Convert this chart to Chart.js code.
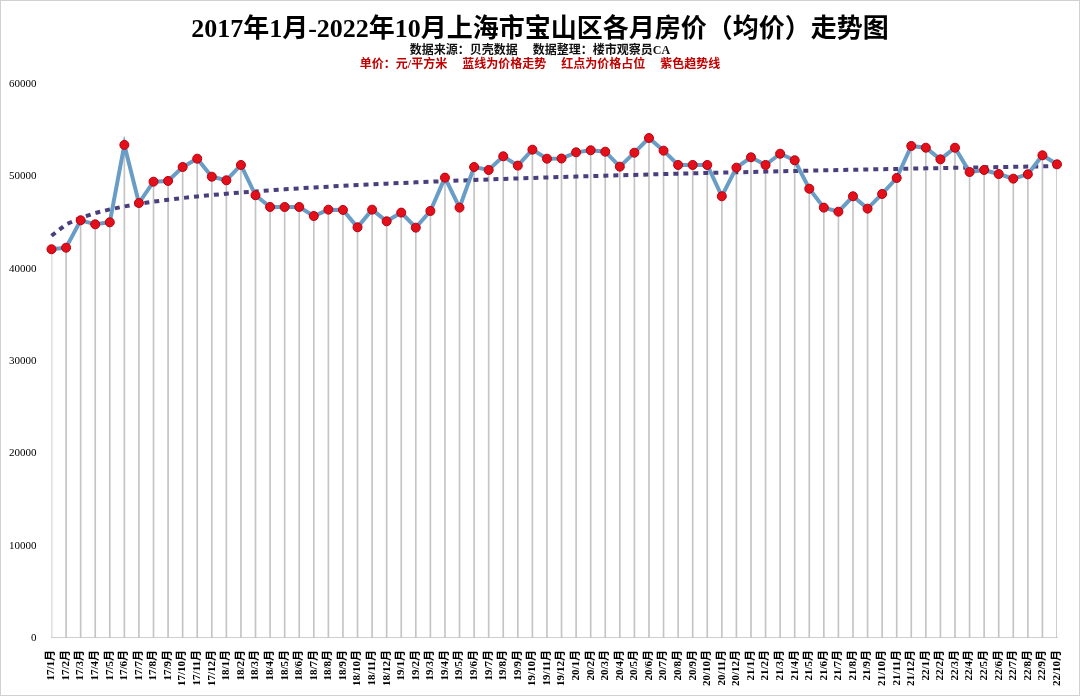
<!DOCTYPE html>
<html>
<head>
<meta charset="utf-8">
<script src="https://cdn.jsdelivr.net/npm/chart.js@4"></script>
<style>
  html, body { margin: 0; padding: 0; background: #fff; }
  #wrap { position: relative; width: 1078px; height: 694px; border: 1px solid #d0d0d0; }
  #myChart { position: absolute; left: 0; top: 0; }
  .t { position: absolute; left: 0; width: 100%; text-align: center; font-weight: bold; white-space: pre; }
  #title { top: 6px; font: bold 26px "Liberation Serif", "Noto Sans CJK SC", serif; color: #000; }
  #sub1 { top: 39px; font: bold 12px "Liberation Serif", "Noto Sans CJK SC", serif; color: #111; }
  #sub2 { top: 53px; font: bold 12px "Liberation Serif", "Noto Sans CJK SC", serif; color: #c00000; }
</style>
</head>
<body>
<div id="wrap">
  <canvas id="myChart" width="1078" height="694"></canvas>
  <div class="t" id="title">2017年1月-2022年10月上海市宝山区各月房价（均价）走势图</div>
  <div class="t" id="sub1">数据来源：贝壳数据     数据整理：楼市观察员CA</div>
  <div class="t" id="sub2">单价：元/平方米     蓝线为价格走势     红点为价格占位     紫色趋势线</div>
</div>
<script>
const ctx = document.getElementById('myChart');

var years = ["17", "18", "19", "20", "21", "22"];
var xValues = [];
years.forEach(function (y) {
    for (var m = 1; m <= 12; m++) {
        if (y == "22" && m > 10) break;
        xValues.push(y + "/" + m + "月");
    }
});

var yValues = [
    42100, 42270, 45240, 44800, 45020, 53400, 47110, 49420, 49500, 51010, 51910, 49960,
    49570, 51230, 47950, 46680, 46680, 46680, 45700, 46390, 46360, 44480, 46390, 45130,
    46070, 44440, 46250, 49860, 46610, 51010, 50690, 52170, 51160, 52890, 51910, 51930,
    52600, 52820, 52670, 51050, 52560, 54150, 52780, 51230, 51230, 51230, 47840, 50940,
    52060, 51230, 52450, 51740, 48660, 46610, 46170, 47840, 46500, 48090, 49820, 53290,
    53100, 51840, 53100, 50470, 50690, 50250, 49750, 50220, 52280, 51300
];
var yTicks = [0, 10000, 20000, 30000, 40000, 50000, 60000];

// logarithmic trendline (least squares on ln(x)), like the Excel one
var n = yValues.length, sx = 0, sy = 0, sxx = 0, sxy = 0;
for (var i = 0; i < n; i++) {
    var lx = Math.log(i + 1);
    sx += lx; sy += yValues[i]; sxx += lx * lx; sxy += lx * yValues[i];
}
var slope = (n * sxy - sx * sy) / (n * sxx - sx * sx);
var icpt = (sy - slope * sx) / n;
var trend = yValues.map(function (v, i) { return icpt + slope * Math.log(i + 1); });

const chart = new Chart(ctx, {
    data: {
        labels: xValues,
        datasets: [{
            type: 'line',
            data: yValues,
            borderColor: '#6a9dc6',
            borderWidth: 4,
            pointRadius: 4.5,
            pointBackgroundColor: '#e3101c',
            pointBorderColor: '#b8000c',
            pointBorderWidth: 1,
            tension: 0,
            order: 1
        }, {
            type: 'line',
            data: trend,
            borderColor: '#4a3f7c',
            borderWidth: 4,
            borderDash: [5, 5],
            pointRadius: 0,
            order: 2
        }, {
            type: 'bar',
            data: yValues,
            backgroundColor: '#c4c4c4',
            barThickness: 1,
            order: 3
        }]
    },
    options: {
        responsive: false,
        animation: false,
        layout: {
            padding: { top: 83, left: 1, right: 22, bottom: 5 }
        },
        scales: {
            x: {
                offset: false,
                grid: { display: false },
                border: { display: true, color: '#cfcfcf', width: 1 },
                ticks: {
                    autoSkip: false,
                    maxRotation: 90,
                    minRotation: 90,
                    color: '#000',
                    padding: 4,
                    font: { family: '"Liberation Serif", "Noto Sans CJK SC"', size: 11, weight: 'bold' }
                }
            },
            y: {
                min: 0,
                max: 60000,
                grid: { display: false },
                border: { display: false },
                afterBuildTicks: function (axis) {
                    axis.ticks = yTicks.map(function (v) { return { value: v }; });
                },
                ticks: {
                    color: '#000',
                    padding: 7,
                    font: { family: '"Liberation Serif"', size: 11 },
                    callback: function (v) { return String(v); }
                }
            }
        },
        plugins: {
            legend: { display: false },
            tooltip: { enabled: false }
        }
    }
});
</script>
</body>
</html>
